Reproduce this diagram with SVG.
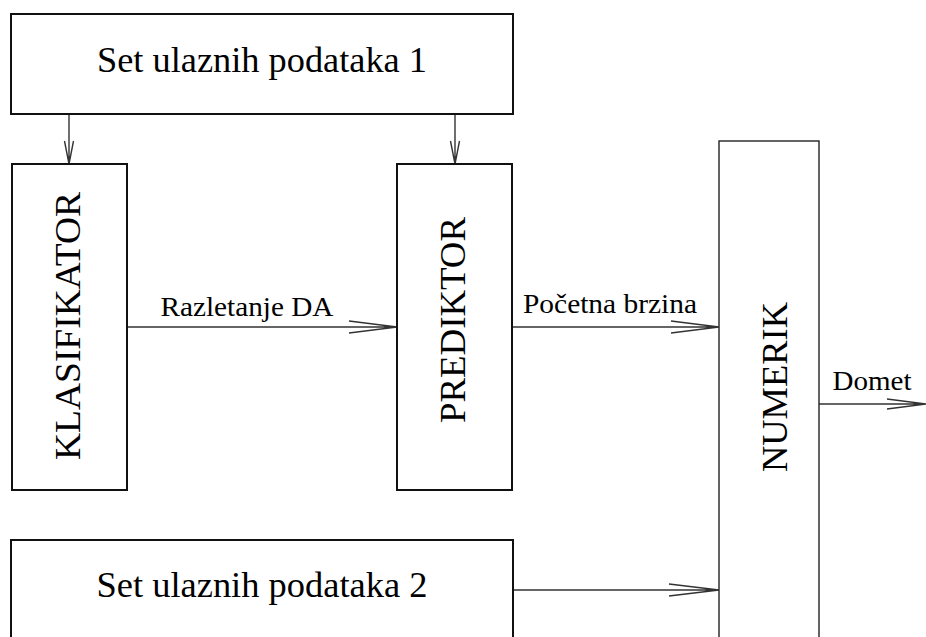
<svg xmlns="http://www.w3.org/2000/svg" width="926" height="637" viewBox="0 0 926 637">
<style>
text{font-family:"Liberation Serif","Tinos","DejaVu Serif","Noto Serif","FreeSerif",serif;fill:#000;text-anchor:middle}
.box{fill:#fff;stroke:#111;stroke-width:2}
.thin{fill:#fff;stroke:#222;stroke-width:1.4}
.big{font-size:35px}
.vert{font-size:36px}
.lbl{font-size:28px}
.con{fill:none;stroke:#333;stroke-width:1.4}
</style>
<rect width="926" height="637" fill="#fff"/>
<g id="connectors">
  <path class="con" d="M69 114V164M64.5 141L69 164L73.5 141"/>
  <path class="con" d="M455 114V164M450.5 141L455 164L459.5 141"/>
  <path class="con" d="M127 327H397M349 321L397 327L349 333"/>
  <path class="con" d="M512 327H719M671 321L719 327L671 333"/>
  <path class="con" d="M819 404H926M887 399L926 404L887 409"/>
  <path class="con" d="M513 590H719M669 584L719 590L669 596"/>
  <text class="lbl" x="247" y="316" textLength="173" lengthAdjust="spacingAndGlyphs">Razletanje DA</text>
  <text class="lbl" x="610" y="313" textLength="174" lengthAdjust="spacingAndGlyphs">Početna brzina</text>
  <text class="lbl" x="872" y="390" textLength="79" lengthAdjust="spacingAndGlyphs">Domet</text>
</g>
<g id="set1">
  <rect class="box" x="11" y="14" width="502" height="100"/>
  <text class="big" x="262" y="72" textLength="330" lengthAdjust="spacingAndGlyphs">Set ulaznih podataka 1</text>
</g>
<g id="klasifikator">
  <rect class="box" x="12" y="164" width="115" height="326"/>
  <text class="vert" transform="translate(80 326) rotate(-90)" textLength="268" lengthAdjust="spacingAndGlyphs">KLASIFIKATOR</text>
</g>
<g id="prediktor">
  <rect class="box" x="397" y="164" width="115" height="326"/>
  <text class="vert" transform="translate(465 320) rotate(-90)" textLength="206" lengthAdjust="spacingAndGlyphs">PREDIKTOR</text>
</g>
<g id="numerik">
  <rect class="thin" x="719" y="141" width="100" height="510"/>
  <text class="vert" transform="translate(787 387) rotate(-90)" textLength="170" lengthAdjust="spacingAndGlyphs">NUMERIK</text>
</g>
<g id="set2">
  <rect class="box" x="11" y="540" width="502" height="110"/>
  <text class="big" x="262" y="597" textLength="331" lengthAdjust="spacingAndGlyphs">Set ulaznih podataka 2</text>
</g>
</svg>
